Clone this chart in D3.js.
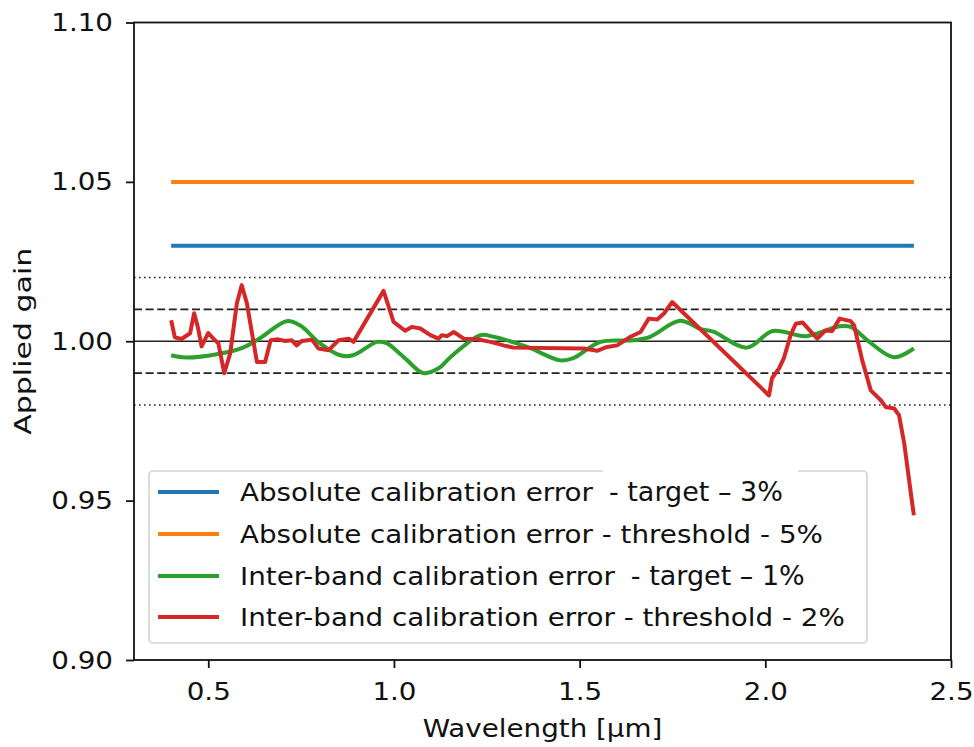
<!DOCTYPE html>
<html>
<head>
<meta charset="utf-8">
<script src="https://cdn.jsdelivr.net/npm/d3@7"></script>
<style>
  body { margin: 0; background: #fff; }
  text { font-family: "DejaVu Sans", sans-serif; fill: #111; }
</style>
</head>
<body>
<script>
// reference levels and tick values
var xTicks = [0.5, 1.0, 1.5, 2.0, 2.5];
var yTicks = [0.90, 0.95, 1.00, 1.05, 1.10];
var solidLevels = [1.00];
var dashedLevels = [1.01, 0.99];
var dottedLevels = [1.02, 0.98];

// flat requirement lines
var absStart = [0.40, 2.40];
var absTarget = [1.03, 1.03];
var absThreshold = [1.05, 1.05];

// inter-band target (smooth, green)
var greenWl = [0.40, 0.44, 0.53, 0.594, 0.64, 0.711, 0.747, 0.80, 0.855, 0.89, 0.955, 0.98, 1.017, 1.036,
  1.079, 1.12, 1.152, 1.233, 1.268, 1.359, 1.448, 1.483, 1.556, 1.645, 1.69, 1.77, 1.826, 1.86, 1.95,
  2.02, 2.11, 2.20, 2.23, 2.275, 2.346, 2.40];
var greenGain = [0.9956, 0.9949, 0.9961, 0.998, 1.001, 1.0063, 1.005, 0.9994, 0.9956, 0.9956, 0.9998, 0.9994, 0.996, 0.994,
  0.990, 0.9915, 0.995, 1.0019, 1.0014, 0.9982, 0.994, 0.9947, 0.9998, 1.0003, 1.0014, 1.0064, 1.0038, 1.003, 0.998,
  1.0032, 1.0016, 1.0047, 1.0045, 1.0003, 0.995, 0.9978];

// inter-band threshold (jagged, red)
var redWl = [0.40, 0.41, 0.428, 0.451, 0.462, 0.472, 0.482, 0.50, 0.513, 0.527, 0.543, 0.559, 0.577, 0.59, 0.604,
  0.631, 0.653, 0.668, 0.688, 0.707, 0.725, 0.738, 0.752, 0.779, 0.797, 0.824, 0.851, 0.878, 0.891, 0.972, 0.999,
  1.03, 1.048, 1.071, 1.098, 1.12, 1.129, 1.143, 1.161, 1.188, 1.224, 1.26, 1.295, 1.322, 1.511, 1.547, 1.574,
  1.601, 1.637, 1.664, 1.686, 1.709, 1.727, 1.749, 2.01, 2.018, 2.037, 2.05, 2.068, 2.082, 2.10, 2.14, 2.162,
  2.18, 2.20, 2.23, 2.239, 2.261, 2.284, 2.311, 2.324, 2.347, 2.36, 2.374, 2.392, 2.40];
var redGain = [1.0066, 1.0012, 1.0007, 1.0025, 1.0088, 1.0044, 0.9984, 1.0026, 1.0009, 0.9994, 0.990, 0.9962, 1.0119, 1.0176, 1.0119,
  0.9935, 0.9935, 1.0003, 1.0006, 1.0001, 1.0003, 0.9987, 1.0001, 1.0005, 0.9977, 0.9972, 1.0003, 1.0008, 0.9998, 1.0158, 1.0061,
  1.0033, 1.0045, 1.004, 1.0019, 1.0008, 1.0019, 1.0016, 1.0029, 1.0008, 1.0006, 0.9998, 0.9987, 0.998, 0.9977, 0.997, 0.9982,
  0.9987, 1.0014, 1.0029, 1.0071, 1.0068, 1.0087, 1.0123, 0.983, 0.9884, 0.9915, 0.9947, 1.0019, 1.0055, 1.0059, 1.0008, 1.0034,
  1.0032, 1.0071, 1.0063, 1.005, 0.994, 0.9846, 0.9815, 0.9794, 0.9789, 0.9768, 0.968, 0.9522, 0.9454];

var legendMain = ["Absolute calibration error", "Absolute calibration error - threshold - 5%",
  "Inter-band calibration error", "Inter-band calibration error - threshold - 2%"];
var legendSuffix = ["- target \u2013 3%", "", "- target \u2013 1%", ""];
var colors = ["#1f77b4", "#ff7f0e", "#2ca02c", "#d62728"];

var W = 974, H = 747;
var margin = {top: 22.5, right: 23, bottom: 87, left: 134};
var stretch = 1.11;

var svg = d3.select("body").append("svg")
    .attr("width", W)
    .attr("height", H);

var x = d3.scaleLinear().domain([0.3, 2.5]).range([margin.left, W - margin.right]);
var y = d3.scaleLinear().domain([0.90, 1.10]).range([H - margin.bottom, margin.top]);

var plot = svg.append("g");

// reference lines across the whole axes
function hline(v, dash, w) {
    plot.append("line")
        .attr("x1", x.range()[0]).attr("x2", x.range()[1])
        .attr("y1", y(v)).attr("y2", y(v))
        .attr("stroke", "#222")
        .attr("stroke-width", w)
        .attr("stroke-dasharray", dash);
}
dottedLevels.forEach(function (v) { hline(v, "1.6,3.4", 1.3); });
dashedLevels.forEach(function (v) { hline(v, "8,3.6", 1.6); });
solidLevels.forEach(function (v) { hline(v, null, 1.6); });

var line = d3.line().x(function (d) { return x(d[0]); }).y(function (d) { return y(d[1]); });
var smooth = d3.line().curve(d3.curveCatmullRom.alpha(0.5))
    .x(function (d) { return x(d[0]); }).y(function (d) { return y(d[1]); });

var series = [
    {pts: d3.zip(absStart, absTarget), gen: line, c: colors[0]},
    {pts: d3.zip(absStart, absThreshold), gen: line, c: colors[1]},
    {pts: d3.zip(greenWl, greenGain), gen: smooth, c: colors[2]},
    {pts: d3.zip(redWl, redGain), gen: line, c: colors[3]}
];
series.forEach(function (s) {
    plot.append("path")
        .attr("d", s.gen(s.pts))
        .attr("fill", "none")
        .attr("stroke", s.c)
        .attr("stroke-width", 4)
        .attr("stroke-linejoin", "round")
        .attr("stroke-linecap", "butt");
});

// axes
var xAxis = svg.append("g")
    .attr("transform", "translate(0," + (H - margin.bottom) + ")")
    .call(d3.axisBottom(x).tickValues(xTicks).tickFormat(d3.format(".1f")).tickSize(8).tickPadding(14));
var yAxis = svg.append("g")
    .attr("transform", "translate(" + margin.left + ",0)")
    .call(d3.axisLeft(y).tickValues(yTicks).tickFormat(d3.format(".2f")).tickSize(8).tickPadding(13));

[xAxis, yAxis].forEach(function (a) {
    a.select(".domain").remove();
    a.selectAll(".tick line").attr("stroke", "#111").attr("stroke-width", 1.8);
    a.selectAll(".tick text").attr("font-size", 25).attr("font-family", "DejaVu Sans").attr("fill", "#111");
});
xAxis.selectAll(".tick text").attr("transform", "scale(" + stretch + ",1)");
yAxis.selectAll(".tick text").attr("x", -21 / stretch).attr("transform", "scale(" + stretch + ",1)");

// frame
svg.append("rect")
    .attr("x", margin.left).attr("y", margin.top)
    .attr("width", W - margin.left - margin.right)
    .attr("height", H - margin.top - margin.bottom)
    .attr("fill", "none").attr("stroke", "#111").attr("stroke-width", 1.8);

// axis titles
var cx = (margin.left + W - margin.right) / 2;
svg.append("text")
    .attr("transform", "translate(" + cx + ",737) scale(" + stretch + ",1)")
    .attr("text-anchor", "middle")
    .attr("font-size", 25)
    .text("Wavelength [\u00b5m]");

svg.append("text")
    .attr("transform", "translate(31," + y(1.0) + ") rotate(-90) scale(1.45,1)")
    .attr("text-anchor", "middle")
    .attr("font-family", "Liberation Sans Narrow, DejaVu Sans Condensed, sans-serif")
    .attr("font-stretch", "condensed")
    .attr("font-size", 23)
    .text("Applied gain");

// legend
var leg = svg.append("g");
leg.append("rect")
    .attr("x", 149).attr("y", 471)
    .attr("width", 718).attr("height", 172)
    .attr("rx", 4)
    .attr("fill", "#fff").attr("fill-opacity", 0.8)
    .attr("stroke", "#d4d4d4").attr("stroke-width", 1.6);
// pasted patch that hides part of the top border
leg.append("rect")
    .attr("x", 603).attr("y", 466).attr("width", 195).attr("height", 30)
    .attr("fill", "#fff");

var rowY = [492, 534, 576, 617];
legendMain.forEach(function (lab, i) {
    leg.append("line")
        .attr("x1", 158).attr("x2", 219)
        .attr("y1", rowY[i]).attr("y2", rowY[i])
        .attr("stroke", colors[i]).attr("stroke-width", 4);
    var t = leg.append("text")
        .attr("transform", "translate(240," + (rowY[i] + 9) + ") scale(" + stretch + ",1)")
        .attr("font-size", 25)
        .text(lab);
    if (legendSuffix[i]) {
        var wdt = t.node().getComputedTextLength() * stretch;
        leg.append("text")
            .attr("x", 240 + wdt + 16)
            .attr("y", rowY[i] + 9)
            .attr("font-family", "Lato, Open Sans, sans-serif")
            .attr("font-size", 27)
            .text(legendSuffix[i]);
    }
});
</script>
</body>
</html>
